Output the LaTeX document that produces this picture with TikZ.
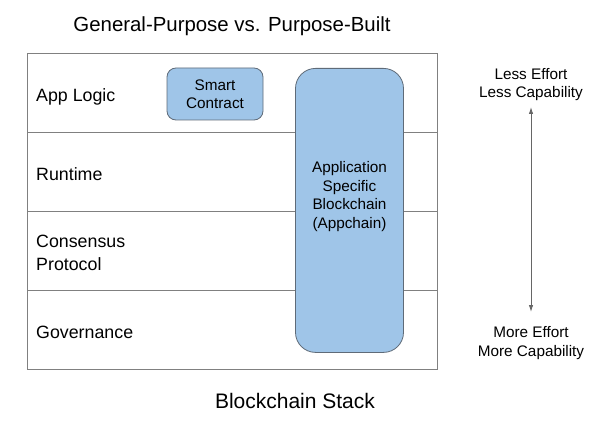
\documentclass[tikz,border=0pt]{standalone}
\usepackage{fontspec}
\setmainfont{Liberation Sans}
\usetikzlibrary{arrows.meta}
\definecolor{boxfill}{HTML}{9FC5E8}
\definecolor{boxedge}{HTML}{5F6B78}
\definecolor{rowedge}{HTML}{808080}
\definecolor{arrowgray}{HTML}{666666}
\tikzset{
  rowbox/.style={draw=rowedge, line width=0.9pt, minimum width=410pt, anchor=north west, inner sep=0pt},
  rowlabel/.style={anchor=base west, align=left, font=\fontsize{17.8}{22.8}\selectfont, inner sep=0pt},
  bluebox/.style={draw=boxedge, fill=boxfill, line width=0.8pt, inner sep=0pt},
  boxtext/.style={align=center, anchor=base, font=\fontsize{15.3}{18.5}\selectfont, inner sep=0pt},
  sidetext/.style={align=center, anchor=base, font=\fontsize{15.3}{18.6}\selectfont, inner sep=0pt},
  bigtext/.style={anchor=base, inner sep=0pt},
  tip/.tip={Latex[length=7pt,width=4.5pt]}
}
\begin{document}
\begin{tikzpicture}[x=1pt,y=-1pt]
\useasboundingbox (0,0) rectangle (600,425);
\fill[white] (0,0) rectangle (600,425);
\node[bigtext, font=\fontsize{20.4}{24}\selectfont] (title) at (232,32) {General-Purpose vs. Purpose-Built};
\node[rowbox, minimum height=79pt] (r1) at (27,53) {};
\node[rowbox, minimum height=79pt] (r2) at (27,132) {};
\node[rowbox, minimum height=79pt] (r3) at (27,211) {};
\node[rowbox, minimum height=79pt] (r4) at (27,290) {};
\node[rowlabel] (l1) at (36,101.5) {App Logic};
\node[rowlabel] (l2) at (36,181) {Runtime};
\node[rowlabel] (l3) at (36,270) {Consensus\\Protocol};
\node[rowlabel] (l4) at (36,338) {Governance};
\node[bluebox, rounded corners=9pt, minimum width=96pt, minimum height=52pt] (sc) at (215,94) {};
\node[boxtext, font=\fontsize{15.3}{17.8}\selectfont] (sctext) at (215,108.5) {Smart\\Contract};
\node[bluebox, rounded corners=20pt, minimum width=108pt, minimum height=284pt, anchor=north] (app) at (349.5,68) {};
\node[boxtext] (apptext) at (349.5,228.5) {Application\\Specific\\Blockchain\\(Appchain)};
\node[sidetext] (less) at (531,98) {Less Effort\\Less Capability};
\node[sidetext] (more) at (531,356) {More Effort\\More Capability};
\coordinate (a1) at (531,107);
\coordinate (a2) at (531,312);
\draw[arrowgray, line width=0.9pt, tip-tip] (a1) -- (a2);
\node[bigtext, font=\fontsize{21}{25}\selectfont] (stack) at (295,408) {Blockchain Stack};
\end{tikzpicture}
\end{document}
